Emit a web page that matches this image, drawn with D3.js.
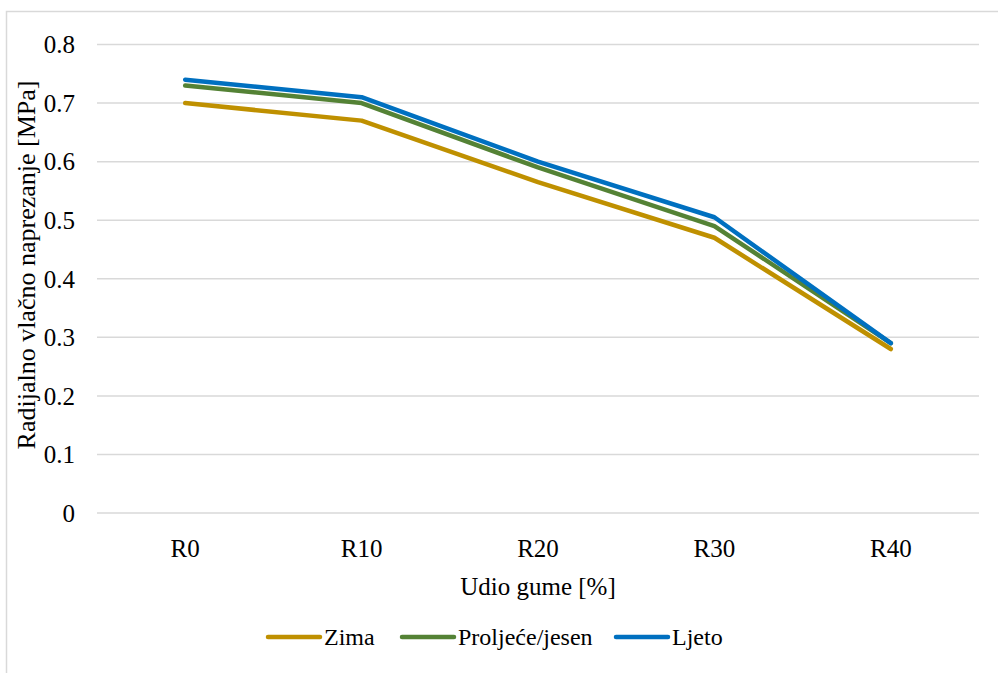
<!DOCTYPE html>
<html><head><meta charset="utf-8">
<script src="https://cdn.jsdelivr.net/npm/d3@7"></script>
<style>
@font-face{font-family:"ChartSerif";src:local("Liberation Serif"),local("LiberationSerif"),local("Tinos"),local("Times New Roman");}
body{margin:0;background:#fff}
</style>
</head><body><svg id="c" width="998" height="673"></svg>
<script>
const categories = ["R0","R10","R20","R30","R40"];
const zima = [0.70,0.67,0.565,0.47,0.28];
const proljeceJesen = [0.73,0.70,0.59,0.49,0.29];
const ljeto = [0.74,0.71,0.60,0.505,0.29];
const yTicks = [0,0.1,0.2,0.3,0.4,0.5,0.6,0.7,0.8];
const seriesNames = ["Zima","Proljeće/jesen","Ljeto"];
const seriesColors = ["#BF9000","#548235","#0070C0"];
const seriesData = [zima, proljeceJesen, ljeto];
const FONT = '"Liberation Serif", ChartSerif, serif';

const svg = d3.select("#c");
svg.append("rect").attr("x",6.5).attr("y",11.5).attr("width",1000).attr("height",700)
  .attr("fill","#fff").attr("stroke","#D9D9D9").attr("stroke-width",1.5);

const L=97,R=979,T=44.5,B=513;
const x = d3.scaleBand().domain(categories).range([L,R]);
const y = d3.scaleLinear().domain([0,0.8]).range([B,T]);

const g = svg.append("g");
g.selectAll("line.grid").data(yTicks).join("line")
  .attr("x1",L).attr("x2",R).attr("y1",d=>y(d)).attr("y2",d=>y(d))
  .attr("stroke","#D9D9D9").attr("stroke-width",1.5);

function txt(sel, size){
  return sel.style("font-family",FONT).style("font-size",size+"px");
}

txt(g.selectAll("text.yt").data(yTicks).join("text")
  .attr("x",75).attr("y",d=>y(d)).attr("dy","0.35em").attr("text-anchor","end")
  .text(d=>d===0?"0":d3.format(".1f")(d)), 25);

txt(g.selectAll("text.xt").data(categories).join("text")
  .attr("x",d=>x(d)+x.bandwidth()/2).attr("y",548).attr("dy","0.35em").attr("text-anchor","middle")
  .text(d=>d), 25);

txt(svg.append("text").attr("x",(L+R)/2).attr("y",586).attr("dy","0.35em").attr("text-anchor","middle")
  .text("Udio gume [%]"), 25);
txt(svg.append("text").attr("transform",`translate(26,265) rotate(-90)`).attr("dy","0.35em")
  .attr("text-anchor","middle").text("Radijalno vlačno naprezanje [MPa]"), 26);

const line = d3.line().x((d,i)=>x(categories[i])+x.bandwidth()/2).y(d=>y(d));
seriesData.forEach((s,k)=>{
  svg.append("path").attr("d",line(s)).attr("fill","none").attr("stroke",seriesColors[k])
    .attr("stroke-width",4.5).attr("stroke-linecap","round").attr("stroke-linejoin","round");
});

const legX=[268,402,616];
seriesNames.forEach((n,k)=>{
  svg.append("line").attr("x1",legX[k]).attr("x2",legX[k]+52).attr("y1",637).attr("y2",637)
    .attr("stroke",seriesColors[k]).attr("stroke-width",4.5).attr("stroke-linecap","round");
  txt(svg.append("text").attr("x",legX[k]+56).attr("y",637).attr("dy","0.35em").text(n), 24);
});
</script></body></html>
